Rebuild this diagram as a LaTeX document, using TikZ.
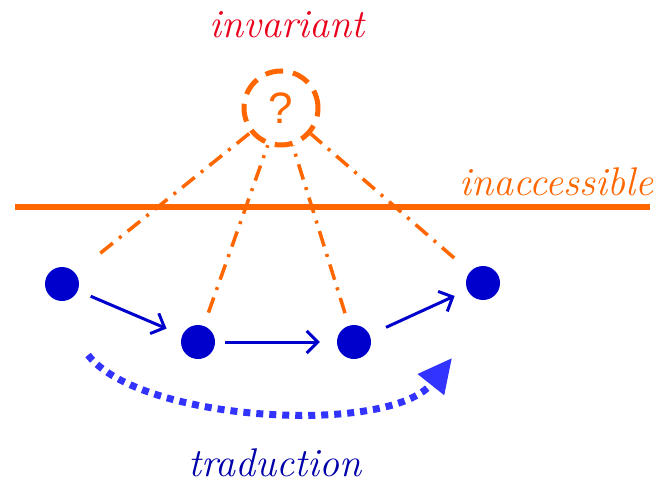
\documentclass[tikz,border=0pt]{standalone}
\usepackage{fontspec}
\newfontfamily\qfont{Liberation Sans}
\usetikzlibrary{arrows.meta}
\definecolor{myorange}{HTML}{FF6600}
\definecolor{myred}{HTML}{E8001C}
\definecolor{dotblue}{HTML}{0000CC}
\definecolor{arcblue}{HTML}{3333FF}
\definecolor{textblue}{HTML}{0000AA}
\begin{document}
\begin{tikzpicture}[x=1pt,y=-1pt,
  stateDot/.style={circle,fill=dotblue,minimum size=34pt,inner sep=0pt},
  qcircle/.style={circle,draw=myorange,line width=5pt,dash pattern=on 18pt off 10pt,minimum size=74pt,inner sep=0pt,text=myorange,font=\qfont\fontsize{44}{44}\selectfont},
  dashdotline/.style={myorange,line width=3.5pt,dash pattern=on 16pt off 8pt on 3pt off 8pt},
  steparrow/.style={dotblue,line width=3pt,-{Straight Barb[length=11pt,width=22pt,line width=3pt]}},
  lbl/.style={font=\fontsize{40}{40}\selectfont\itshape}
]
\useasboundingbox (0,0) rectangle (658,484);
\node[qcircle] (q) at (281,108) {?};
\node[lbl,text=myred] (inv) at (287,25) {invariant};
\coordinate (hl) at (15,207);
\coordinate (hr) at (650,207);
\draw[myorange,line width=6pt] (hl) -- (hr);
\node[lbl,text=myorange,anchor=base east] (inacc) at (657,195) {inaccessible};
\node[stateDot] (d1) at (62,284) {};
\node[stateDot] (d2) at (198,342) {};
\node[stateDot] (d3) at (354,342) {};
\node[stateDot] (d4) at (483,283) {};
\draw[dashdotline,shorten <=32pt] (d1) -- (q);
\draw[dashdotline,shorten <=14pt] (d2) -- (q);
\draw[dashdotline,shorten <=13pt] (d3) -- (q);
\draw[dashdotline,shorten <=21pt] (d4) -- (q);
\draw[steparrow,shorten <=14pt,shorten >=17pt] (d1) -- (d2);
\draw[steparrow,shorten <=10pt,shorten >=17pt] (d2) -- (d3);
\draw[steparrow,shorten <=18pt,shorten >=14pt] (d3) -- (d4);
\coordinate (a0) at (88,355);
\coordinate (a1) at (452,358);
\draw[arcblue,line width=7pt,dash pattern=on 7pt off 6pt,-{Triangle[length=34pt,width=32pt]}] (a0) .. controls (140,422) and (390,436) .. (a1);
\node[lbl,text=textblue] (trad) at (275,463) {traduction};
\end{tikzpicture}
\end{document}
